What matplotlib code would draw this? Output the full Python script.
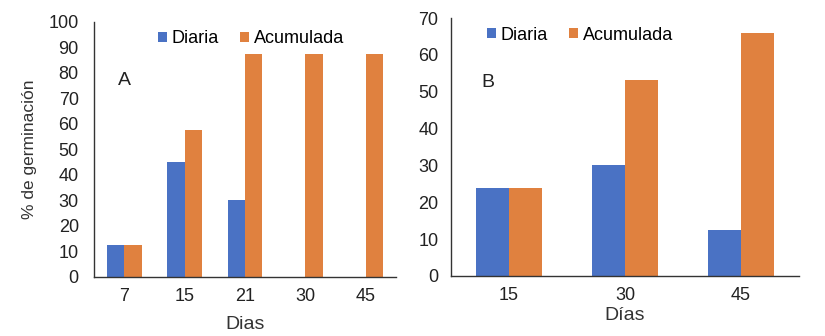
import matplotlib
matplotlib.use("Agg")
import matplotlib.pyplot as plt
import numpy as np

plt.rcParams['font.family'] = ['Liberation Sans', 'DejaVu Sans']

# Panel A data
dias_a = ["7", "15", "21", "30", "45"]
diaria_a = [12.5, 45, 30, 0, 0]
acum_a = [12.5, 57.5, 87.5, 87.5, 87.5]

# Panel B data
dias_b = ["15", "30", "45"]
diaria_b = [24, 30, 12.5]
acum_b = [24, 53.3, 66]

blue = "#4A72C4"
orange = "#E0813F"
W = 0.287

fig = plt.figure(figsize=(8.25, 3.36), dpi=100)
axA = fig.add_axes([0.114, 0.1756, 0.366, 0.759])
axB = fig.add_axes([0.5467, 0.1786, 0.4218, 0.7674])

def draw(ax, cats, d, a, ymax, ystep, xlabel, letter, lpos, legx, ypad, xlpad):
    x = np.arange(len(cats))
    ax.bar(x - W/2, d, W, color=blue, label="Diaria")
    ax.bar(x + W/2, a, W, color=orange, label="Acumulada")
    ax.set_xlim(-0.5, len(cats) - 0.5)
    ax.set_ylim(0, ymax)
    ax.set_yticks(np.arange(0, ymax + 1, ystep))
    ax.set_xticks(x)
    ax.set_xticklabels(cats)
    ax.tick_params(axis='both', length=0, labelsize=13, colors='#222222')
    ax.tick_params(axis='x', pad=8)
    ax.tick_params(axis='y', pad=ypad)
    for s in ['top', 'right']:
        ax.spines[s].set_visible(False)
    for s in ['left', 'bottom']:
        ax.spines[s].set_color('#333333')
        ax.spines[s].set_linewidth(1.0)
    ax.set_xlabel(xlabel, fontsize=14, color='#333333', labelpad=xlpad)
    ax.text(lpos[0], lpos[1], letter, transform=ax.transAxes, fontsize=14,
            ha='center', va='center', color='#222222')
    ax.legend(loc='upper center', bbox_to_anchor=(legx, 0.995), ncol=2, frameon=False,
              fontsize=13, handlelength=0.5, handleheight=0.5, handletextpad=0.25,
              columnspacing=1.2, borderaxespad=0)

draw(axA, dias_a, diaria_a, acum_a, 100, 10, "Dias", "A", (0.10, 0.77), 0.52, 11, 8)
draw(axB, dias_b, diaria_b, acum_b, 70, 10, "Días", "B", (0.105, 0.749), 0.37, 9, 2)
axA.set_ylabel("% de germinación", fontsize=12.5, color='#333333', labelpad=8)

fig.savefig("out.png", dpi=100)
